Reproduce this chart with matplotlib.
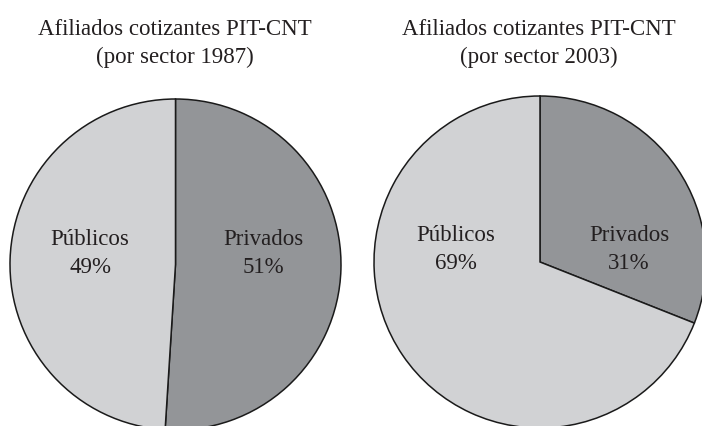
import matplotlib.pyplot as plt

# data
sectors = ["Privados", "Públicos"]
shares_1987 = [51, 49]
shares_2003 = [31, 69]
titles = ["Afiliados cotizantes PIT-CNT\n(por sector 1987)",
          "Afiliados cotizantes PIT-CNT\n(por sector 2003)"]

colors = ["#939598", "#d1d2d4"]
text_color = "#231f20"
plt.rcParams['font.family'] = ['Liberation Serif', 'DejaVu Serif']

W, H = 702, 427
fig = plt.figure(figsize=(W / 100, H / 100), dpi=100)
ax = fig.add_axes([0, 0, 1, 1])

# pie centres / radii in pixel units (y measured from top)
pies = [
    dict(vals=shares_1987, cx=175.5, cy=265.5, r=165.5, tx=175,
         lab=[(263, 253.5), (90, 253.5)]),
    dict(vals=shares_2003, cx=540, cy=263, r=166, tx=539,
         lab=[(629, 249.5), (456, 249.5)]),
]

for p, title in zip(pies, titles):
    ax.pie(p["vals"], colors=colors, startangle=90, counterclock=False,
           center=(p["cx"], H - p["cy"]), radius=p["r"], frame=True,
           wedgeprops=dict(edgecolor="#1a1a1a", linewidth=1.1))
    for (lx, ly), name, v in zip(p["lab"], sectors, p["vals"]):
        ax.text(lx, H - ly, f"{name}\n{v}%", ha="center", va="center",
                fontsize=16.5, color=text_color, linespacing=1.45)
    ax.text(p["tx"], H - 43.5, title, ha="center", va="center",
            fontsize=16.5, color=text_color, linespacing=1.45)

ax.set_xlim(0, W)
ax.set_ylim(0, H)
ax.set_aspect('equal')
ax.axis('off')

plt.savefig("out.png", dpi=100)
